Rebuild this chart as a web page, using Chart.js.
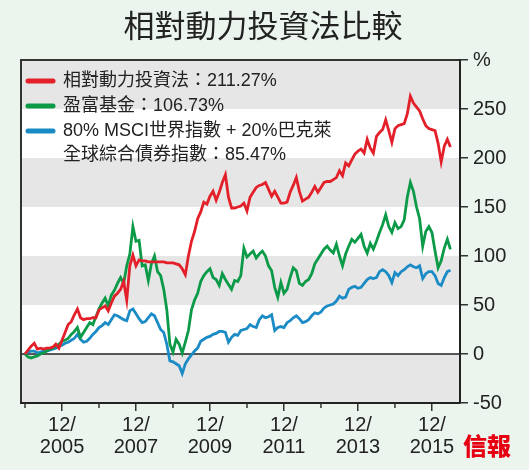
<!DOCTYPE html>
<html>
<head>
<meta charset="utf-8">
<script src="https://cdn.jsdelivr.net/npm/chart.js@4/dist/chart.umd.min.js"></script>
<style>
  html, body { margin: 0; padding: 0; background: #ebf5ee; }
  #wrap { width: 529px; height: 470px; }
</style>
</head>
<body>
<div id="wrap"><canvas id="chart" width="529" height="470"></canvas></div>
<script>
// months since 12/2004, one value per month
const redValues = [
  0, 4, 8, 11, 5, 6, 5, 6, 6, 7, 10, 6,
  14, 22, 30, 33, 40, 46, 37, 35, 36, 36, 37, 37,
  45, 47, 49, 44, 52, 59, 62, 66, 74, 55, 90, 101,
  90, 96, 95, 95, 94, 94, 94, 94, 94, 94, 93, 93,
  93, 92, 91, 87, 81, 100, 115, 125, 138, 145, 155, 153,
  161, 166, 157, 165, 175, 183, 160, 149, 149, 150, 151, 154,
  146, 160, 165, 170, 172, 173, 175, 168, 161, 166, 160, 154,
  154, 155, 165, 172, 180, 166, 156, 158, 160, 165, 171, 165,
  170, 175, 176, 176, 178, 180, 187, 182, 195, 192, 198, 204,
  207, 209, 205, 219, 210, 205, 222, 226, 229, 239, 228, 216,
  230, 233, 234, 235, 245, 263, 256, 252, 248, 240, 233, 230,
  229, 228, 215, 196, 212, 219, 211.27
];
const greenValues = [
  0, -3, -4, -3, -2, 0, 1, 3, 5, 6, 8, 10,
  13, 14, 16, 20, 23, 27, 17, 22, 27, 32, 30, 38,
  46, 52, 57, 49, 60, 65, 72, 78, 72, 90, 102, 130,
  115, 116, 90, 91, 75, 92, 100, 84, 80, 66, 45, 10,
  2, 15, 10, 1, 12, 24, 45, 55, 62, 74, 80, 84,
  87, 78, 76, 70, 82, 76, 71, 66, 75, 74, 80, 108,
  99, 102, 105, 98, 102, 105, 100, 90, 85, 68, 58, 73,
  62, 66, 78, 88, 85, 72, 70, 74, 76, 82, 92, 97,
  102, 107, 110, 106, 103, 112, 100, 90, 102, 110, 117, 114,
  118, 122, 110, 103, 113, 107, 115, 124, 132, 142, 130, 124,
  134, 128, 130, 137, 160, 175, 166, 150, 138, 110, 125, 130,
  124, 105, 88, 95, 108, 117, 106.73
];
const blueValues = [
  0, 2, 3, 3, 1, 2, 3, 3, 4, 5, 6, 8,
  9, 11, 12, 14, 16, 20, 15, 12, 13, 16, 20, 23,
  27, 29, 32, 30, 35, 40, 39, 37, 35, 34, 44, 46,
  41, 36, 32, 33, 37, 41, 39, 32, 25, 22, 10, -7,
  -8, -10, -12, -20, -10, -5, -1, 3, 6, 13, 15, 17,
  18, 20, 21, 23, 23, 22, 12, 17, 20, 19, 24, 25,
  26, 30, 28, 27, 35, 39, 37, 38, 40, 24, 27, 28,
  27, 32, 34, 37, 39, 36, 32, 33, 35, 39, 42, 41,
  43, 47, 49, 50, 51, 54, 59, 57, 58, 66, 68, 69,
  67, 68, 72, 76, 78, 77, 78, 84, 86, 84, 80, 73,
  83, 80, 84, 86, 89, 91, 89, 88, 90, 77, 82, 84,
  84, 80, 72, 70, 78, 84, 85.47
];

const yearTicks = [0, 12, 24, 36, 48, 60, 72, 84, 96, 108, 120, 132];
const yearLabels = ['', '12/\n2005', '', '12/\n2007', '', '12/\n2009', '', '12/\n2011', '', '12/\n2013', '', '12/\n2015'];
const yTicks = [-50, 0, 50, 100, 150, 200, 250, 300];
const grayBands = [[-50, 0], [50, 100], [150, 200], [250, 300]];

const chartTitle = '相對動力投資法比較';
const seriesNames = ['相對動力投資法：211.27%', '盈富基金：106.73%', '80% MSCI世界指數 + 20%巴克萊'];
const seriesExtra = '全球綜合債券指數：85.47%';
const colors = ['#e3202a', '#0b9a48', '#1a8bc5'];

const latin = "'Liberation Sans', 'Noto Sans CJK TC', sans-serif";

const toPoints = vals => vals.map((v, i) => ({ x: i, y: v }));

const backdrop = {
  id: 'backdrop',
  beforeDraw(chart) {
    const { ctx, chartArea: a, scales: { y } } = chart;
    ctx.save();
    ctx.fillStyle = '#ffffff';
    ctx.fillRect(a.left, a.top, a.right - a.left, a.bottom - a.top);
    ctx.fillStyle = '#e6e6e6';
    grayBands.forEach(([lo, hi]) => {
      const y1 = y.getPixelForValue(hi);
      const y2 = y.getPixelForValue(lo);
      ctx.fillRect(a.left, y1, a.right - a.left, y2 - y1);
    });
    ctx.strokeStyle = '#222';
    ctx.lineWidth = 1.5;
    const z = y.getPixelForValue(0);
    ctx.beginPath();
    ctx.moveTo(a.left, z);
    ctx.lineTo(a.right, z);
    ctx.stroke();
    ctx.lineWidth = 2;
    ctx.strokeStyle = '#333';
    ctx.beginPath();
    ctx.moveTo(a.left, a.bottom);
    ctx.lineTo(a.left, a.top);
    ctx.lineTo(a.right, a.top);
    ctx.stroke();
    ctx.restore();
  },
  afterDraw(chart) {
    const { ctx, chartArea: a, scales: { x } } = chart;
    ctx.save();
    // title
    ctx.fillStyle = '#222';
    ctx.font = "400 31px 'Noto Sans CJK TC'";
    ctx.textAlign = 'center';
    ctx.textBaseline = 'middle';
    ctx.fillText(chartTitle, 263, 25);
    // short ticks for the unlabelled years
    ctx.strokeStyle = '#333';
    ctx.lineWidth = 1.5;
    yearTicks.forEach((m, i) => {
      if (yearLabels[i]) return;
      const px = x.getPixelForValue(m);
      ctx.beginPath();
      ctx.moveTo(px, a.bottom);
      ctx.lineTo(px, a.bottom + 5);
      ctx.stroke();
    });
    // legend
    ctx.textAlign = 'left';
    const rows = [81, 106, 131];
    rows.forEach((ry, i) => {
      ctx.strokeStyle = colors[i];
      ctx.lineWidth = 5;
      ctx.lineCap = 'round';
      ctx.beginPath();
      ctx.moveTo(28, ry);
      ctx.lineTo(53, ry);
      ctx.stroke();
      ctx.fillStyle = '#222';
      ctx.font = '18px ' + latin;
      ctx.fillText(seriesNames[i], 63, ry);
    });
    ctx.fillText(seriesExtra, 63, 155);
    // logo
    ctx.fillStyle = '#e60012';
    ctx.font = "900 24px 'Noto Sans CJK TC'";
    ctx.textAlign = 'center';
    ctx.fillText('信報', 487, 446);
    ctx.restore();
  }
};

new Chart(document.getElementById('chart'), {
  type: 'line',
  data: {
    datasets: [
      { data: toPoints(redValues), borderColor: colors[0] },
      { data: toPoints(greenValues), borderColor: colors[1] },
      { data: toPoints(blueValues), borderColor: colors[2] }
    ]
  },
  options: {
    responsive: false,
    animation: false,
    parsing: false,
    elements: {
      line: { borderWidth: 2.8, tension: 0, fill: false },
      point: { radius: 0 }
    },
    layout: { padding: { left: 21, right: 0, top: 60, bottom: 0 } },
    plugins: {
      legend: { display: false },
      tooltip: { enabled: false }
    },
    scales: {
      x: {
        type: 'linear',
        min: -1.3,
        max: 141.1,
        afterBuildTicks: scale => {
          scale.ticks = yearTicks.map(v => ({ value: v }));
        },
        afterFit: scale => { scale.height = 67; },
        grid: {
          drawOnChartArea: false,
          drawTicks: true,
          tickLength: 8,
          lineWidth: 1.5,
          tickColor: c => (yearLabels[c.index] ? '#333' : 'rgba(0,0,0,0)')
        },
        border: { display: true, color: '#222', width: 2 },
        ticks: {
          autoSkip: false,
          maxRotation: 0,
          minRotation: 0,
          padding: 3,
          color: '#222',
          font: { family: latin, size: 20, lineHeight: 1.1 },
          callback: (value, index) => yearLabels[index].split('\n')
        }
      },
      y: {
        position: 'right',
        min: -50,
        max: 300,
        afterBuildTicks: scale => {
          scale.ticks = yTicks.map(v => ({ value: v }));
        },
        afterFit: scale => { scale.width = 69; },
        grid: { drawOnChartArea: false, drawTicks: true, tickLength: 8, color: '#333', lineWidth: 1.5 },
        border: { display: true, color: '#222', width: 2 },
        ticks: {
          padding: 5,
          color: '#222',
          font: { family: latin, size: 20 },
          callback: v => (v === 300 ? '%' : v)
        }
      }
    }
  },
  plugins: [backdrop]
});
</script>
</body>
</html>
